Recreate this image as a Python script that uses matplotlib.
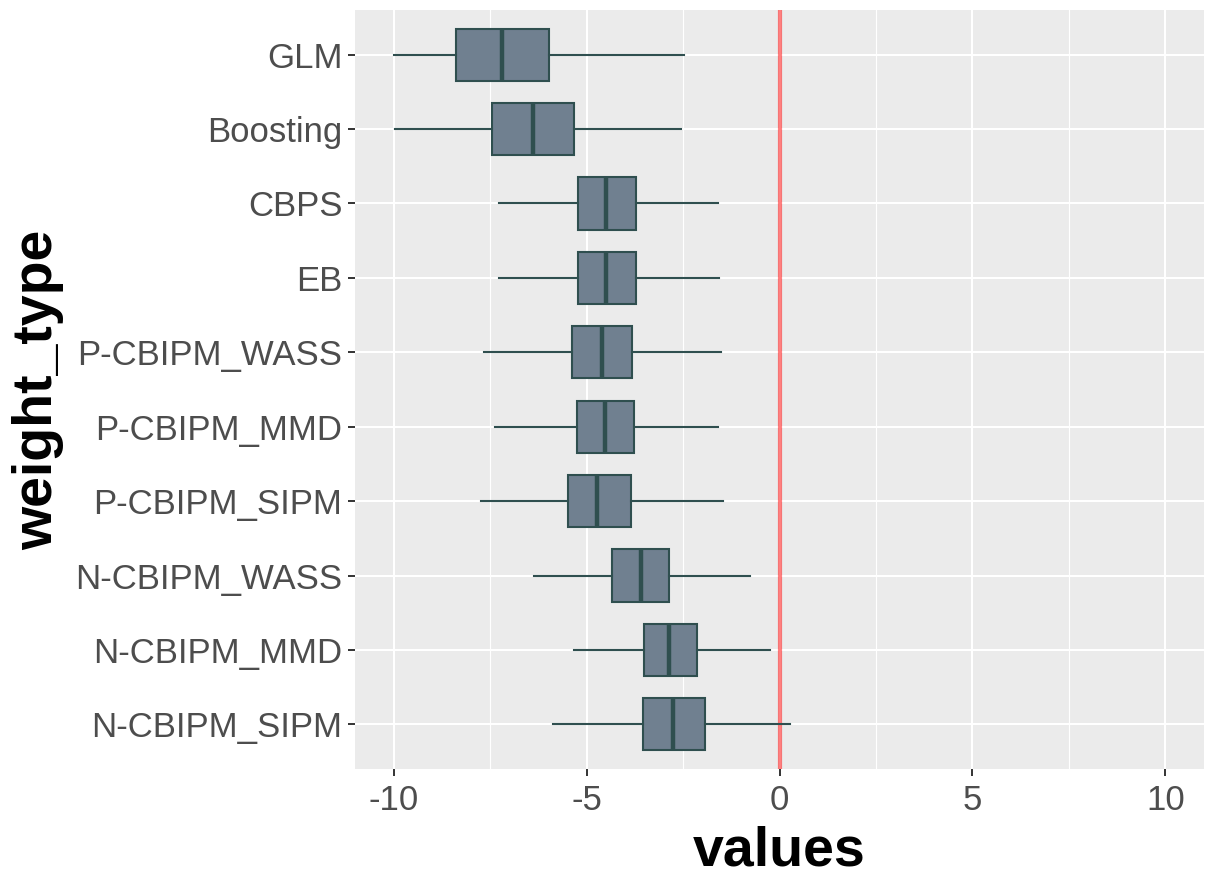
import matplotlib.pyplot as plt
import numpy as np

plt.rcParams['font.family'] = ['Liberation Sans', 'DejaVu Sans']

# categories, top to bottom
weight_types = ['GLM', 'Boosting', 'CBPS', 'EB', 'P-CBIPM_WASS', 'P-CBIPM_MMD',
                'P-CBIPM_SIPM', 'N-CBIPM_WASS', 'N-CBIPM_MMD', 'N-CBIPM_SIPM']
whisker_lo = [-9.98, -9.96, -7.28, -7.28, -7.67, -7.38, -7.74, -6.37, -5.33, -5.88]
q1 = [-8.38, -7.44, -5.23, -5.23, -5.38, -5.26, -5.47, -4.33, -3.50, -3.53]
medians = [-7.18, -6.38, -4.49, -4.49, -4.60, -4.52, -4.73, -3.60, -2.86, -2.75]
q3 = [-5.96, -5.33, -3.73, -3.73, -3.82, -3.76, -3.86, -2.87, -2.14, -1.92]
whisker_hi = [-2.47, -2.55, -1.59, -1.56, -1.51, -1.59, -1.46, -0.76, -0.24, 0.28]
ref_value = 0

fig = plt.figure(figsize=(12.15, 8.83), dpi=100)
ax = fig.add_axes([355 / 1215, 114 / 883, 849 / 1215, 759 / 883])
ax.set_facecolor('#EBEBEB')

n = len(weight_types)
pos = np.arange(n, 0, -1)

stats = []
for i in range(n):
    stats.append(dict(whislo=whisker_lo[i], q1=q1[i], med=medians[i],
                      q3=q3[i], whishi=whisker_hi[i], fliers=[]))

edge = '#2F4F4F'
ax.axvline(ref_value, color='red', alpha=0.5, lw=3, zorder=2)
ax.bxp(stats, positions=pos, vert=False, widths=0.7, patch_artist=True,
       showcaps=False, showfliers=False,
       boxprops=dict(facecolor='#708090', edgecolor=edge, lw=1.5),
       whiskerprops=dict(color=edge, lw=1.5),
       medianprops=dict(color=edge, lw=3.2),
       zorder=3)

ax.set_xlim(-11, 11)
ax.set_ylim(0.4, n + 0.6)
ax.set_xticks([-10, -5, 0, 5, 10])
ax.set_xticklabels(['-10', '-5', '0', '5', '10'])
ax.set_xticks([-7.5, -2.5, 2.5, 7.5], minor=True)
ax.set_yticks(pos)
ax.set_yticklabels(weight_types)

ax.grid(True, which='major', color='white', lw=1.5, zorder=0)
ax.grid(True, which='minor', axis='x', color='white', lw=0.8, zorder=0)
ax.set_axisbelow(True)
for s in ax.spines.values():
    s.set_visible(False)

ax.tick_params(axis='both', which='major', length=5, width=1.4, color='#333333',
               labelsize=25, labelcolor='#4D4D4D')
ax.tick_params(axis='x', pad=6)
ax.tick_params(axis='y', pad=4)
ax.tick_params(which='minor', length=0)

ax.set_xlabel('values', fontsize=40, fontweight='bold', labelpad=6)
ax.set_ylabel('weight_type', fontsize=40, fontweight='bold', labelpad=8)

plt.savefig('out.png', dpi=100)
